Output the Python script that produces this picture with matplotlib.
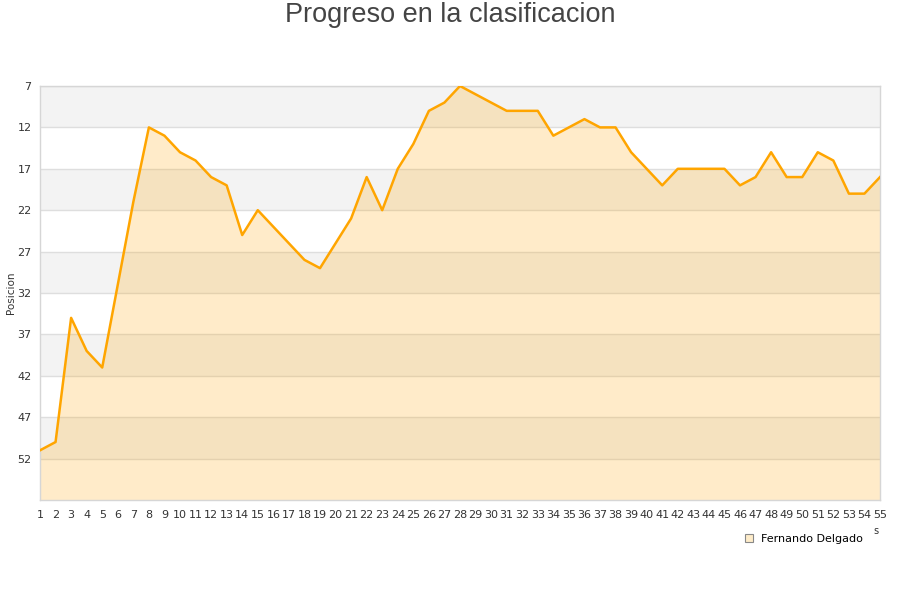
import matplotlib
matplotlib.use("Agg")
import matplotlib.pyplot as plt
from matplotlib.lines import Line2D

jornadas = list(range(1, 56))
posiciones = [51, 50, 35, 39, 41, 31, 21, 12, 13, 15,
              16, 18, 19, 25, 22, 24, 26, 28, 29, 26,
              23, 18, 22, 17, 14, 10, 9, 7, 8, 9,
              10, 10, 10, 13, 12, 11, 12, 12, 15, 17,
              19, 17, 17, 17, 17, 19, 18, 15, 18, 18,
              15, 16, 20, 20, 18]
y_ticks = [7, 12, 17, 22, 27, 32, 37, 42, 47, 52]
jugador = "Fernando Delgado"
titulo = "Progreso en la clasificacion"
y_label = "Posicion"

fig = plt.figure(figsize=(9, 6), dpi=100)
ax = fig.add_axes([40/900, 100/600, 840/900, 414/600])

ymin, ymax = 7, 57
# alternating bands
for i, lo in enumerate(range(ymin, ymax, 5)):
    col = "#f3f3f3" if i % 2 == 0 else "#ffffff"
    ax.axhspan(lo, lo + 5, color=col, zorder=0, lw=0)
for t in y_ticks:
    ax.axhline(t, color="#dedede", lw=1, zorder=1)

ax.fill_between(jornadas, posiciones, ymax, color="#ffa500", alpha=0.21, lw=0, zorder=2)
ax.plot(jornadas, posiciones, color="#ffa500", lw=1.8, zorder=3)

ax.set_xlim(1, 55)
ax.set_ylim(ymax, ymin)
ax.set_yticks(y_ticks)
ax.set_xticks(jornadas)
ax.tick_params(axis="both", length=0, labelsize=8, colors="#333333")
ax.tick_params(axis="x", pad=7)
ax.tick_params(axis="y", pad=6)
for s in ax.spines.values():
    s.set_color("#d6d6d6")
    s.set_linewidth(1)

fig.text(0.5, 1 - 15/600, titulo, ha="center", va="center", fontsize=19.5,
         family="Liberation Sans", color="#444444")
fig.text(11/900, 1 - 293/600, y_label, rotation=90, ha="center", va="center",
         fontsize=7.5, color="#333333")

fig.text(876/900, 1 - 531/600, "s", ha="center", va="center", fontsize=7, color="#333333")

handle = Line2D([], [], marker="s", ls="none", markersize=6,
                markerfacecolor="#feecc9", markeredgecolor="#888888", markeredgewidth=0.8)
fig.legend([handle], [jugador], loc="center left", bbox_to_anchor=(738/900, 1 - 539/600),
           frameon=False, fontsize=8, handlelength=1, handletextpad=0.6, borderpad=0)

fig.savefig("out.png", dpi=100)
